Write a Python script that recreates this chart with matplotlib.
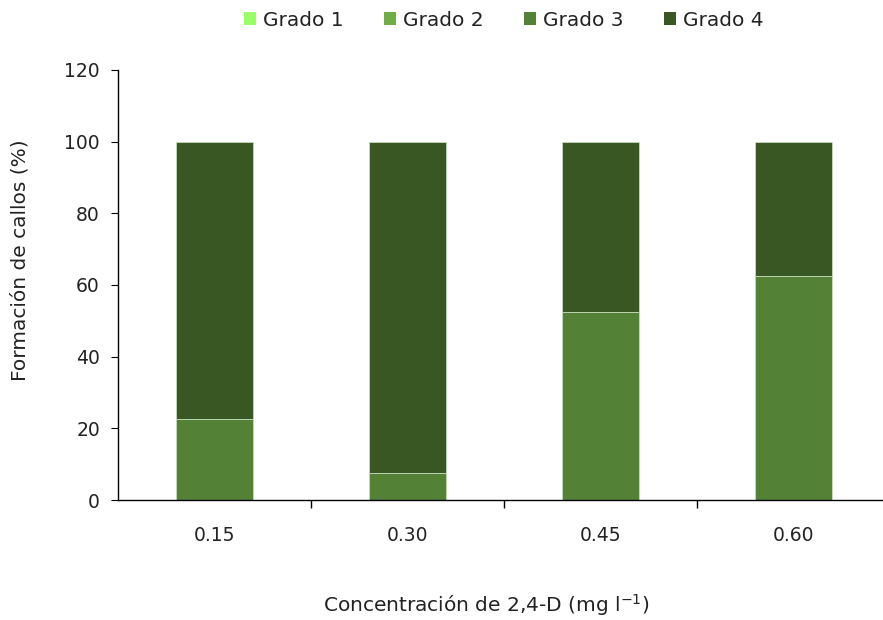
import numpy as np
import matplotlib.pyplot as plt
from matplotlib.patches import Patch

# Data
concentraciones = ["0.15", "0.30", "0.45", "0.60"]
grado1 = [0, 0, 0, 0]
grado2 = [0, 0, 0, 0]
grado3 = [22.5, 7.5, 52.5, 62.5]
grado4 = [77.5, 92.5, 47.5, 37.5]

series = [("Grado 1", grado1, "#99ff66"),
          ("Grado 2", grado2, "#70ad47"),
          ("Grado 3", grado3, "#538135"),
          ("Grado 4", grado4, "#385723")]

plt.rcParams['font.family'] = ['Verdana', 'DejaVu Sans']
txt = "#222222"

fig = plt.figure(figsize=(8.83, 6.2), dpi=100)
ax = fig.add_axes([118 / 883, 1 - 500 / 620, 772 / 883, 430 / 620])

x = np.arange(len(concentraciones))
bottom = np.zeros(len(concentraciones))
for name, vals, color in series:
    vals = np.array(vals, dtype=float)
    ax.bar(x, vals, width=0.4, bottom=bottom, color=color,
           edgecolor="#c8dcc0", linewidth=0.6)
    bottom += vals

ax.set_ylim(0, 120)
ax.set_yticks(range(0, 121, 20))
ax.set_xlim(-0.5, len(concentraciones) - 0.5)
ax.set_xticks(x)
ax.set_xticklabels(concentraciones)
ax.set_xticks(np.arange(0.5, len(concentraciones) - 0.5, 1), minor=True)
ax.tick_params(axis="x", which="major", length=0, pad=19, labelsize=13.5, labelcolor=txt)
ax.tick_params(axis="x", which="minor", length=6, direction="out", width=1)
ax.tick_params(axis="y", length=5, direction="out", labelsize=13.5, pad=8, labelcolor=txt)

for s in ["top", "right"]:
    ax.spines[s].set_visible(False)
ax.spines["left"].set_linewidth(1)
ax.spines["bottom"].set_linewidth(1)

fig.text(20 / 883, 1 - 260 / 620, "Formación de callos (%)", rotation=90,
         ha="center", va="center", fontsize=14.5, color=txt)
fig.text(486 / 883, 1 - 605 / 620, "Concentración de 2,4-D (mg l$^{\\mathregular{-1}}$)",
         ha="center", va="center", fontsize=14.5, color=txt)

handles = [Patch(facecolor=c, edgecolor="none", label=n) for n, _, c in series]
fig.legend(handles=handles, loc="center", bbox_to_anchor=(504 / 883, 1 - 20 / 620),
           ncol=4, frameon=False, fontsize=14.5, handlelength=0.6, handleheight=0.6,
           handletextpad=0.35, columnspacing=2.0, labelcolor=txt)

fig.savefig("out.png", dpi=100)
